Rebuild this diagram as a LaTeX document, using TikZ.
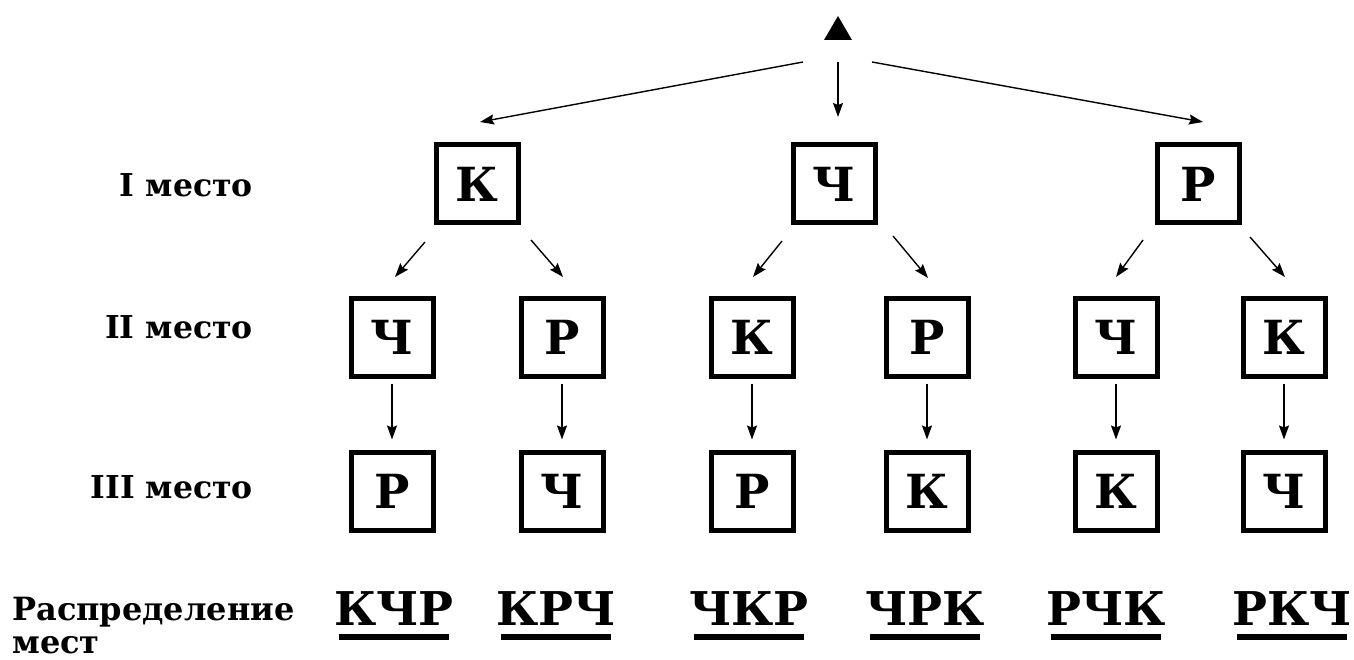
\documentclass[tikz,border=0pt]{standalone}
\usepackage{fontspec}
\setmainfont{DejaVu Serif}
\usetikzlibrary{arrows.meta}
\tikzset{
  box/.style={draw, line width=5pt, minimum width=82pt, minimum height=78pt, inner sep=0pt, font=\fontsize{47}{50}\selectfont\bfseries},
  arr/.style={line width=1.4pt, -{Stealth[length=14pt,width=10pt,inset=2pt]}},
  lbl/.style={anchor=base east, inner sep=0pt, font=\fontsize{31.5}{34}\selectfont\bfseries},
  code/.style={anchor=base, inner sep=0pt, font=\fontsize{46.5}{50}\selectfont\bfseries},
  uline/.style={line width=6pt}
}
\begin{document}
\begin{tikzpicture}[x=1pt,y=-1pt]
\useasboundingbox (0,0) rectangle (1354,660);
% top marker
\coordinate (top) at (838,30);
\fill[black] ([shift={(-14,10)}]top) -- ([shift={(0,-14)}]top) -- ([shift={(14,10)}]top) -- cycle;
\coordinate (tl) at (803,62);
\coordinate (tm) at (838,62);
\coordinate (tr) at (872,62);
% level 1
\node[box] (a1) at (477,184) {К};
\node[box] (a2) at (834,184) {Ч};
\node[box] (a3) at (1198,184) {Р};
% level 2
\node[box] (b1) at (392,337) {Ч};
\node[box] (b2) at (562,337) {Р};
\node[box] (b3) at (752,337) {К};
\node[box] (b4) at (927,337) {Р};
\node[box] (b5) at (1116,337) {Ч};
\node[box] (b6) at (1284,337) {К};
% level 3
\node[box] (c1) at (392,491) {Р};
\node[box] (c2) at (562,491) {Ч};
\node[box] (c3) at (752,491) {Р};
\node[box] (c4) at (927,491) {К};
\node[box] (c5) at (1116,491) {К};
\node[box] (c6) at (1284,491) {Ч};
% top arrows
\draw[arr] (tl) -- (480,122);
\draw[arr] (tm) -- (838,117);
\draw[arr] (tr) -- (1203,122);
% level 1 -> 2 arrows
\coordinate (s11) at (425,242); \coordinate (e11) at (395,277);
\coordinate (s12) at (531,240); \coordinate (e12) at (563,277);
\coordinate (s21) at (782,241); \coordinate (e21) at (753,277);
\coordinate (s22) at (893,236); \coordinate (e22) at (928,278);
\coordinate (s31) at (1143,240); \coordinate (e31) at (1116,277);
\coordinate (s32) at (1250,237); \coordinate (e32) at (1285,277);
\foreach \s/\e in {s11/e11,s12/e12,s21/e21,s22/e22,s31/e31,s32/e32}
  \draw[arr] (\s) -- (\e);
% level 2 -> 3 arrows
\foreach \u/\v in {b1/c1,b2/c2,b3/c3,b4/c4,b5/c5,b6/c6}
  \draw[arr, shorten <=5pt, shorten >=10pt] (\u.south) -- (\v.north);
% row labels
\node[lbl] (l1) at (253,197) {I место};
\node[lbl] (l2) at (253,338) {II место};
\node[lbl] (l3) at (253,498) {III место};
\node[anchor=base west, inner sep=0pt, font=\fontsize{32}{34}\selectfont\bfseries] (r1) at (12,620) {Распределение};
\node[anchor=base west, inner sep=0pt, font=\fontsize{32}{34}\selectfont\bfseries] (r2) at (12,653) {мест};
% results
\foreach \n/\x/\t in {d1/394/КЧР, d2/556/КРЧ, d3/749/ЧКР, d4/925/ЧРК, d5/1106/РЧК, d6/1292/РКЧ}{
  \node[code] (\n) at (\x,625) {\t};
  \draw[uline] ([xshift=5pt]\n.base west |- 0,637) -- ([xshift=-5pt]\n.base east |- 0,637);
}
\end{tikzpicture}
\end{document}
